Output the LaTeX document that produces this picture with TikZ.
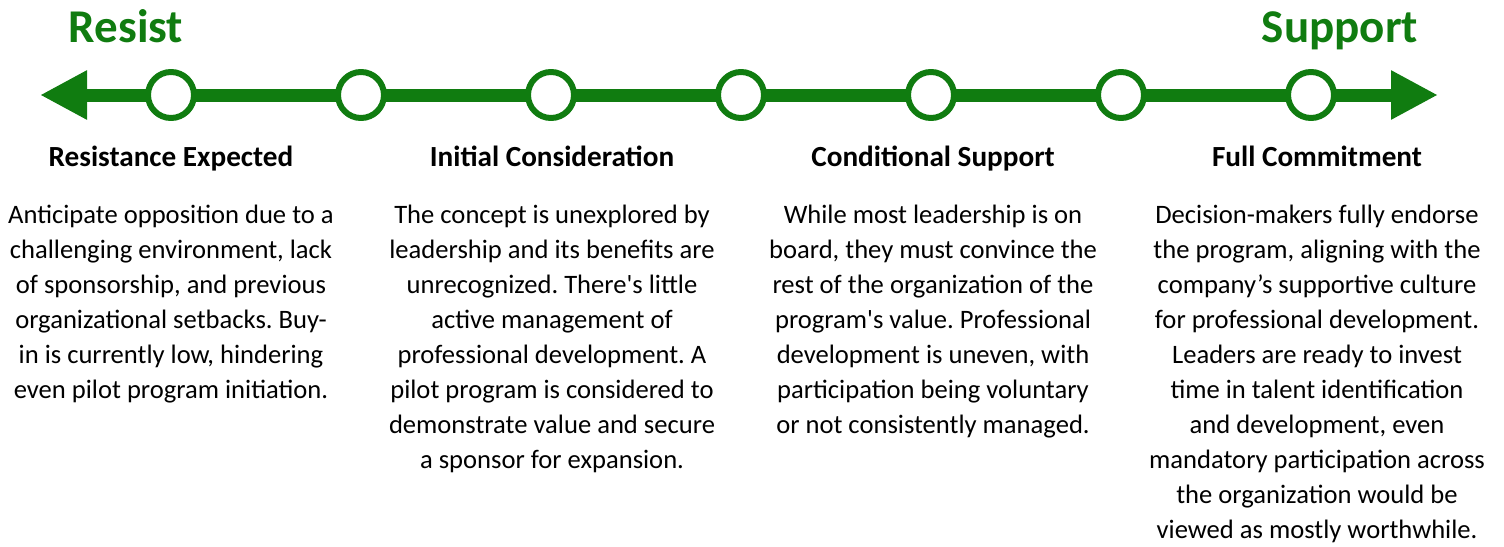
\documentclass[tikz,border=0pt]{standalone}
\usepackage{fontspec}
\setmainfont{Carlito}
\frenchspacing
\usetikzlibrary{arrows.meta}
\definecolor{scalegreen}{RGB}{16,124,16}
\tikzset{
  axis/.style={scalegreen, line width=13pt,
    {Triangle[length=47pt,width=46pt]}-{Triangle[length=47pt,width=46pt]}},
  stop/.style={circle, draw=scalegreen, line width=6pt, fill=white,
    minimum size=46pt, inner sep=0pt},
  endlabel/.style={scalegreen, font=\fontsize{47}{50}\selectfont\bfseries, anchor=base},
  heading/.style={font=\fontsize{29.2}{34}\selectfont\bfseries, anchor=base},
  % base anchor sits on the last line
  body/.style={font=\fontsize{26.6}{35}\selectfont, align=center, anchor=base}
}
\begin{document}
\begin{tikzpicture}[x=1pt, y=-1pt, line join=round]
  \useasboundingbox (0,0) rectangle (1504,546);
  % the scale line
  \coordinate (lefttip) at (40,95);
  \coordinate (righttip) at (1438,95);
  \draw[axis] (lefttip) -- (righttip);
  \foreach \i in {1,...,7}
    \node[stop] (c\i) at ({171+190*(\i-1)},95) {};
  \node[endlabel] (resist) at (126,42) {Resist};
  \node[endlabel] (support) at (1340,42) {Support};
  % the four stages
  \node[heading] (h1) at (171,166) {Resistance Expected};
  \node[heading] (h2) at (552,166) {Initial Consideration};
  \node[heading] (h3) at (933,166) {Conditional Support};
  \node[heading] (h4) at (1317,166) {Full Commitment};
  \node[body] (t1) at (171,{223+35*5}) {Anticipate opposition due to a\\
    challenging environment, lack\\ of sponsorship, and previous\\
    organizational setbacks. Buy-\\ in is currently low, hindering\\
    even pilot program initiation.};
  \node[body] (t2) at (552,{223+35*7}) {The concept is unexplored by\\
    leadership and its benefits are\\ unrecognized. There\textquotesingle s little\\
    active management of\\ professional development. A\\
    pilot program is considered to\\ demonstrate value and secure\\
    a sponsor for expansion.};
  \node[body] (t3) at (933,{223+35*6}) {While most leadership is on\\
    board, they must convince the\\ rest of the organization of the\\
    program\textquotesingle s value. Professional\\ development is uneven, with\\
    participation being voluntary\\ or not consistently managed.};
  \node[body] (t4) at (1317,{223+35*9}) {Decision-makers fully endorse\\
    the program, aligning with the\\ company’s supportive culture\\
    for professional development.\\ Leaders are ready to invest\\
    time in talent identification\\ and development, even\\
    mandatory participation across\\ the organization would be\\
    viewed as mostly worthwhile.};
\end{tikzpicture}
\end{document}
